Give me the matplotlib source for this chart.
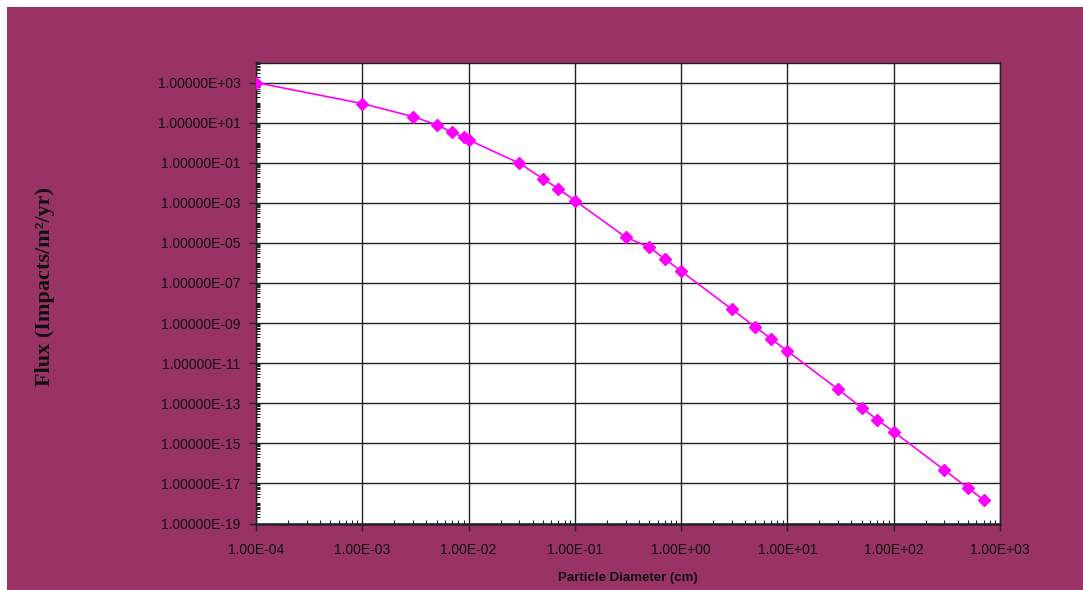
import numpy as np
import matplotlib
matplotlib.use("Agg")
import matplotlib.pyplot as plt
from matplotlib.ticker import FixedLocator, LogLocator, FuncFormatter, NullFormatter
from matplotlib.patches import Rectangle

# particle diameter (cm) and flux (impacts/m^2/yr)
diameter = [1e-4, 1e-3, 3e-3, 5e-3, 7e-3, 9e-3, 1e-2, 3e-2, 5e-2, 7e-2, 1e-1,
            3e-1, 5e-1, 7e-1, 1.0, 3.0, 5.0, 7.0, 10.0, 30.0, 50.0, 70.0, 100.0,
            300.0, 500.0, 700.0]
flux = [1.0e3, 89.0, 20.0, 7.8, 3.3, 1.86, 1.38, 9.5e-2, 1.6e-2, 5.0e-3, 1.3e-3,
        1.93e-5, 6.2e-6, 1.6e-6, 3.9e-7, 4.9e-9, 6.3e-10, 1.66e-10, 4.0e-11,
        4.9e-13, 6.0e-14, 1.5e-14, 3.8e-15, 4.6e-17, 5.9e-18, 1.5e-18]

x_major = 10.0 ** np.arange(-4, 4)
y_major = 10.0 ** np.arange(-19, 4, 2)

PLUM = "#993366"
MAGENTA = "#ff00ff"

fig = plt.figure(figsize=(10.83, 5.90), dpi=100, facecolor="white")
fig.patches.append(Rectangle((7 / 1083, 0), 1, 1 - 7 / 590, transform=fig.transFigure,
                             facecolor=PLUM, edgecolor="none", zorder=-10))

ax = fig.add_axes([256 / 1083, 1 - 523.5 / 590, 744 / 1083, 461 / 590])
ax.set_facecolor("white")
ax.plot(diameter, flux, color=MAGENTA, lw=1.2, marker="D", markersize=6,
        markerfacecolor=MAGENTA, markeredgecolor=MAGENTA, zorder=3)

ax.set_xscale("log")
ax.set_yscale("log")
ax.set_xlim(1e-4, 1e3)
ax.set_ylim(1e-19, 1e4)

ax.xaxis.set_major_locator(FixedLocator(x_major))
ax.yaxis.set_major_locator(FixedLocator(y_major))
ax.xaxis.set_minor_locator(LogLocator(base=10, subs=np.arange(2, 10), numticks=50))
ax.yaxis.set_minor_locator(LogLocator(base=10, subs=np.arange(1, 10), numticks=50))
ax.xaxis.set_minor_formatter(NullFormatter())
ax.yaxis.set_minor_formatter(NullFormatter())
ax.xaxis.set_major_formatter(FuncFormatter(lambda v, p: f"{v:.2E}"))
ax.yaxis.set_major_formatter(FuncFormatter(lambda v, p: f"{v:.5E}"))

ax.grid(True, which="major", color="#222222", lw=1.0)
ax.set_axisbelow(True)
for s in ax.spines.values():
    s.set_color("#222222")
    s.set_linewidth(1.0)
ax.spines["bottom"].set_linewidth(1.8)

ax.tick_params(which="major", direction="out", length=5, width=1, color="#222222",
               labelsize=10, labelcolor="#111111")
ax.tick_params(which="minor", direction="in", length=3, width=0.8, color="#222222")
ax.tick_params(axis="x", which="major", pad=9)
ax.tick_params(axis="y", which="major", pad=6)
for lab in ax.get_xticklabels() + ax.get_yticklabels():
    lab.set_family(["Liberation Sans", "DejaVu Sans"])

ax.set_xlabel("Particle Diameter (cm)", fontsize=9.5, fontweight="bold",
              family=["Liberation Sans", "DejaVu Sans"], color="#111111", labelpad=11)
fig.text(45 / 1083, 1 - 287 / 590, "Flux (Impacts/m²/yr)", rotation=90,
         ha="center", va="center", fontsize=16, fontweight="bold",
         family=["Liberation Serif", "DejaVu Serif"], color="#111111")

fig.savefig("out.png", dpi=100, facecolor=fig.get_facecolor())
